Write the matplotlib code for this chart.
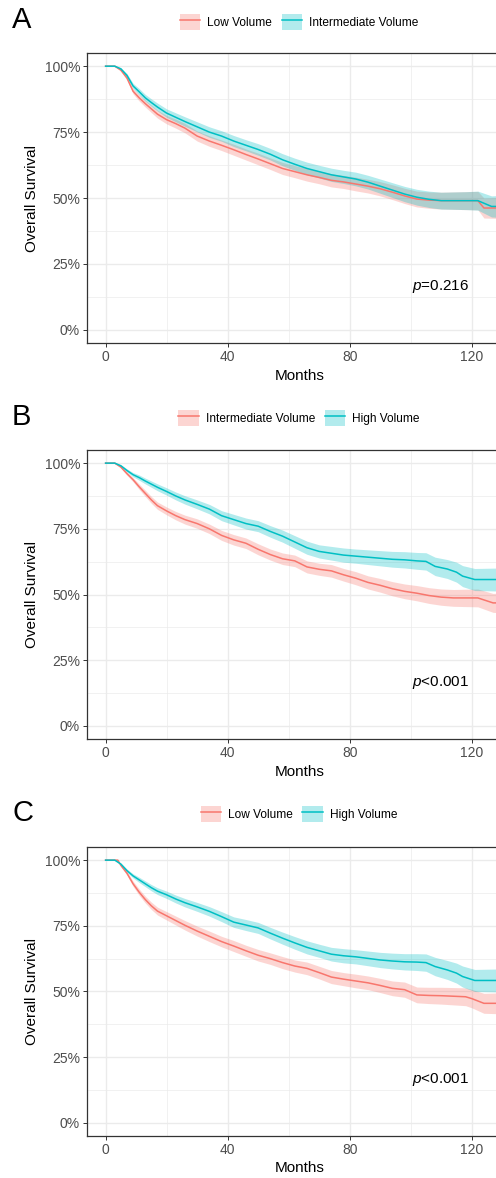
import numpy as np
import matplotlib
matplotlib.use("Agg")
import matplotlib.pyplot as plt
from matplotlib.patches import Patch
from matplotlib.lines import Line2D
from matplotlib.legend_handler import HandlerTuple
from matplotlib.ticker import MultipleLocator, FuncFormatter

plt.rcParams['font.family'] = ['Liberation Sans', 'DejaVu Sans']
plt.rcParams['mathtext.fontset'] = 'custom'
plt.rcParams['mathtext.it'] = 'Liberation Sans:italic'
plt.rcParams['mathtext.rm'] = 'Liberation Sans'

RED = '#F8766D'
TEAL = '#00BFC4'

# ---- panel A: Low vs Intermediate volume ----
a_low_t = [0, 3, 5, 7, 9, 11, 13, 15, 17, 20, 23, 26, 30, 34, 38, 42, 46, 50, 54, 58,
           62, 66, 70, 74, 78, 82, 86, 90, 94, 98, 102, 106, 110, 114, 118, 122, 124, 130]
a_low_s = [1, 1, .985, .955, .905, .880, .858, .838, .818, .797, .782, .765, .735, .716, .700,
           .683, .665, .648, .630, .612, .600, .588, .578, .567, .561, .553, .545, .535, .522,
           .508, .496, .492, .490, .490, .490, .490, .462, .462]
a_low_ci = [0, 0, .004, .007, .010, .012, .013, .014, .015, .016, .017, .018, .019, .020, .020,
            .021, .021, .022, .022, .023, .023, .024, .024, .025, .025, .026, .026, .027, .028,
            .029, .030, .031, .032, .033, .034, .035, .038, .040]

a_int_t = [0, 3, 5, 7, 9, 11, 13, 15, 17, 20, 23, 26, 30, 34, 38, 42, 46, 50, 54, 58,
           62, 66, 70, 74, 78, 82, 86, 90, 94, 98, 102, 106, 110, 114, 118, 122, 126.5, 130]
a_int_s = [1, 1, .99, .965, .925, .903, .880, .862, .845, .822, .806, .790, .770, .750, .735,
           .716, .700, .684, .666, .645, .628, .612, .600, .588, .580, .572, .560, .545, .530,
           .515, .503, .495, .490, .490, .490, .490, .468, .468]
a_int_ci = [0, 0, .004, .007, .010, .012, .013, .014, .015, .016, .017, .018, .019, .020, .020,
            .021, .021, .022, .022, .023, .023, .024, .024, .025, .025, .026, .026, .027, .028,
            .029, .030, .031, .032, .033, .034, .036, .040, .042]

# ---- panel B: Intermediate vs High volume ----
b_int_t = [0, 3, 5, 7, 9, 11, 13, 15, 17, 20, 23, 26, 30, 34, 38, 42, 46, 50, 54, 58,
           62, 66, 70, 74, 78, 82, 86, 90, 94, 98, 102, 106, 110, 114, 118, 122, 127, 130]
b_int_s = [1, 1, .985, .96, .937, .91, .885, .86, .838, .818, .80, .785, .77, .75, .725,
           .708, .695, .672, .652, .636, .628, .605, .596, .59, .575, .562, .546, .535, .522,
           .512, .505, .496, .49, .487, .487, .487, .468, .468]
b_int_ci = [0, 0, .004, .006, .008, .010, .012, .013, .014, .015, .016, .017, .018, .018, .019,
            .020, .020, .021, .021, .022, .022, .023, .023, .024, .024, .025, .025, .026, .027,
            .028, .029, .030, .031, .032, .033, .034, .036, .038]

b_hi_t = [0, 3, 5, 7, 9, 11, 13, 15, 17, 20, 23, 26, 30, 34, 38, 42, 46, 50, 54, 58,
          62, 66, 70, 74, 78, 82, 86, 90, 94, 98, 102, 105, 108, 112, 115, 117, 121, 130]
b_hi_s = [1, 1, .99, .972, .956, .945, .932, .92, .908, .892, .875, .86, .843, .825, .80,
          .785, .77, .76, .74, .722, .70, .678, .664, .657, .65, .646, .642, .638, .634,
          .632, .628, .626, .607, .597, .585, .57, .557, .557]
b_hi_ci = [0, 0, .004, .006, .008, .010, .011, .012, .013, .014, .015, .016, .017, .018, .019,
           .020, .021, .021, .022, .023, .024, .025, .025, .026, .027, .027, .028, .029, .030,
           .031, .032, .033, .035, .036, .038, .040, .042, .044]

# ---- panel C: Low vs High volume ----
c_low_t = [0, 4, 5, 7, 9, 11, 13, 15, 17, 20, 23, 26, 30, 34, 38, 42, 46, 50, 54, 58,
           62, 66, 70, 74, 78, 82, 86, 90, 94, 98, 102, 106, 110, 114, 118, 120, 124, 130]
c_low_s = [1, 1, .98, .95, .91, .878, .85, .826, .806, .788, .77, .752, .73, .71, .69,
           .673, .655, .638, .625, .61, .597, .588, .572, .555, .547, .54, .533, .523, .512,
           .507, .487, .485, .484, .482, .48, .473, .455, .455]
c_low_ci = [0, 0, .004, .007, .010, .012, .013, .014, .015, .016, .017, .018, .019, .020, .020,
            .021, .021, .022, .022, .023, .023, .024, .024, .025, .025, .026, .026, .027, .028,
            .029, .030, .031, .032, .033, .034, .035, .038, .040]

c_hi_t = [0, 3, 5, 7, 9, 11, 13, 15, 17, 20, 23, 26, 30, 34, 38, 42, 46, 50, 54, 58,
          62, 66, 70, 74, 78, 82, 86, 90, 94, 98, 102, 105, 108, 112, 115, 117, 121, 130]
c_hi_s = [1, 1, .985, .96, .94, .925, .91, .895, .882, .868, .852, .838, .822, .805, .785,
          .764, .753, .742, .722, .703, .685, .668, .655, .642, .636, .632, .626, .62, .616,
          .613, .612, .61, .595, .582, .57, .557, .542, .542]
c_hi_ci = [0, 0, .004, .006, .008, .010, .011, .012, .013, .014, .015, .016, .017, .018, .019,
           .020, .021, .021, .022, .023, .024, .025, .025, .026, .027, .027, .028, .029, .030,
           .031, .032, .033, .035, .036, .038, .040, .042, .044]

panels = [
    ('A', ['Low Volume', 'Intermediate Volume'],
     [(a_low_t, a_low_s, a_low_ci), (a_int_t, a_int_s, a_int_ci)], r'$p$=0.216'),
    ('B', ['Intermediate Volume', 'High Volume'],
     [(b_int_t, b_int_s, b_int_ci), (b_hi_t, b_hi_s, b_hi_ci)], r'$p$<0.001'),
    ('C', ['Low Volume', 'High Volume'],
     [(c_low_t, c_low_s, c_low_ci), (c_hi_t, c_hi_s, c_hi_ci)], r'$p$<0.001'),
]

W, H = 496, 1178
fig = plt.figure(figsize=(W / 100, H / 100), dpi=100)

# layout in pixels: axes top, axes bottom, legend y, letter y, x-label y
layout = [(53, 343, 22, 20, 376), (450, 739, 418, 417, 772), (847, 1136, 814, 813, 1168)]
ax_left, ax_right = 87, 512

for (letter, names, series, ptxt), (top, bot, leg_y, let_y, xl_y) in zip(panels, layout):
    ax = fig.add_axes([ax_left / W, 1 - bot / H, (ax_right - ax_left) / W, (bot - top) / H])
    for (t, s, ci), col in zip(series, [RED, TEAL]):
        t = np.array(t, dtype=float)
        s = np.array(s)
        ci = np.array(ci)
        ax.fill_between(t, s - ci, s + ci, color=col, alpha=0.3, linewidth=0)
        ax.plot(t, s, color=col, lw=1.1)
    ax.set_xlim(-6.1, 133.2)
    ax.set_ylim(-0.05, 1.05)
    ax.xaxis.set_major_locator(MultipleLocator(40))
    ax.xaxis.set_minor_locator(MultipleLocator(20))
    ax.yaxis.set_major_locator(MultipleLocator(0.25))
    ax.yaxis.set_minor_locator(MultipleLocator(0.125))
    ax.yaxis.set_major_formatter(FuncFormatter(lambda v, p: f'{v * 100:.0f}%'))
    ax.grid(which='major', color='#EBEBEB', lw=1.0)
    ax.grid(which='minor', color='#EBEBEB', lw=0.5)
    ax.set_axisbelow(True)
    ax.tick_params(which='major', length=3, width=0.7, color='#333333',
                   labelcolor='#4D4D4D', labelsize=10, pad=2)
    ax.tick_params(which='minor', length=0)
    for sp in ax.spines.values():
        sp.set_color('#333333')
        sp.set_linewidth(0.9)
    ax.set_xlabel('Months', fontsize=11, color='black')
    ax.xaxis.set_label_coords(0.5, -(xl_y - bot) / (bot - top))
    ax.xaxis.label.set_va('center')
    ax.set_ylabel('Overall Survival', fontsize=11, color='black')
    ax.yaxis.set_label_coords((32 - ax_left) / (ax_right - ax_left), 0.5)
    ax.yaxis.label.set_va('center')
    ax.text(100.5, 0.165, ptxt, fontsize=11, color='black', ha='left', va='center')

    fig.text(12 / W, 1 - let_y / H, letter, fontsize=21, ha='left', va='center')
    handles = [(Patch(facecolor=c, alpha=0.3, edgecolor='none'), Line2D([], [], color=c, lw=1.1))
               for c in [RED, TEAL]]
    fig.legend(handles, names, handler_map={tuple: HandlerTuple(ndivide=1, pad=0)},
               loc='center', bbox_to_anchor=(299 / W, 1 - leg_y / H), ncol=2, frameon=False,
               fontsize=8.6, handlelength=1.7, handleheight=1.7, handletextpad=0.6,
               columnspacing=0.8, borderpad=0, borderaxespad=0)

fig.savefig('out.png', dpi=100, facecolor='white')
